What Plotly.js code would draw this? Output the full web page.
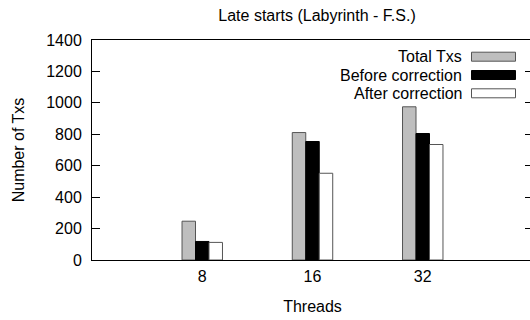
<!DOCTYPE html>
<html>
<head>
<meta charset="utf-8">
<script src="https://cdn.plot.ly/plotly-3.0.1.min.js"></script>
<style>
html,body{margin:0;padding:0;overflow:hidden;background:#fff;}
#chart{width:536px;height:320px;}
</style>
</head>
<body>
<div id="chart"></div>
<script>
// ---- data ----
var threads = ["8", "16", "32"];
var seriesNames = ["Total Txs", "Before correction", "After correction"];
var totalTxs = [247, 811, 975];
var beforeCorrection = [118, 754, 805];
var afterCorrection = [112, 552, 735];
var yTicks = [0, 200, 400, 600, 800, 1000, 1200, 1400];

// ---- styles ----
var fills = ["#bebebe", "#000000", "#ffffff"];
var outlines = ["#555555", "#000000", "#555555"];
var seriesValues = [totalTxs, beforeCorrection, afterCorrection];
var FONT = "Liberation Sans, Arial, sans-serif";
var FS = 16;

var traces = seriesValues.map(function (vals, i) {
  return {
    type: "bar",
    name: seriesNames[i],
    x: threads,
    y: vals,
    marker: {color: fills[i], line: {color: outlines[i], width: 1}},
    showlegend: false,
    hoverinfo: "skip"
  };
});

// manual legend (text right-aligned, sample box on the right)
var shapes = [];
var annotations = [];
var legRowY0 = 56.7, legRowDy = 18.3; // pixels from top of page
var plotTop = 40, plotH = 220, plotLeft = 92, plotW = 441;
function py(p) { return 1 - (p - plotTop) / plotH; }
function px(p) { return (p - plotLeft) / plotW; }
seriesNames.forEach(function (nm, i) {
  var cy = legRowY0 + i * legRowDy;
  annotations.push({
    text: nm, xref: "paper", yref: "paper",
    x: px(464), y: py(cy), xanchor: "right", yanchor: "middle",
    showarrow: false, font: {family: FONT, size: FS, color: "#000"}
  });
  shapes.push({
    type: "rect", xref: "paper", yref: "paper",
    x0: px(471.5), x1: px(515.5), y0: py(cy - 4.5), y1: py(cy + 4.5),
    fillcolor: fills[i], line: {color: outlines[i], width: 1}
  });
});

var layout = {
  width: 536, height: 320,
  margin: {l: 92, r: 3, t: 40, b: 60},
  paper_bgcolor: "#fff", plot_bgcolor: "#fff",
  font: {family: FONT, size: FS, color: "#000"},
  title: {
    text: "Late starts (Labyrinth - F.S.)",
    font: {family: FONT, size: FS, color: "#000"},
    x: px(317), xref: "paper", xanchor: "center",
    y: 1 - 15 / 320, yref: "container", yanchor: "middle"
  },
  barmode: "group",
  bargap: 0.633,
  bargroupgap: 0,
  xaxis: {
    type: "category",
    categoryorder: "array", categoryarray: threads,
    range: [-1, 3],
    showline: true, linecolor: "#000", linewidth: 1, mirror: true,
    ticks: "", showgrid: false, zeroline: false,
    ticklabelstandoff: 2,
    title: {text: "Threads", font: {family: FONT, size: FS}, standoff: 16}
  },
  yaxis: {
    range: [0, 1400],
    tickvals: yTicks,
    ticktext: yTicks.map(String),
    showline: true, linecolor: "#000", linewidth: 1, mirror: "ticks",
    ticks: "inside", ticklen: 8, tickcolor: "#000", tickwidth: 1,
    showgrid: false, zeroline: false,
    ticklabelstandoff: 6,
    title: {text: "Number of Txs", font: {family: FONT, size: FS}, standoff: 17}
  },
  shapes: shapes,
  annotations: annotations
};

Plotly.newPlot("chart", traces, layout, {displayModeBar: false, staticPlot: true});
</script>
</body>
</html>
